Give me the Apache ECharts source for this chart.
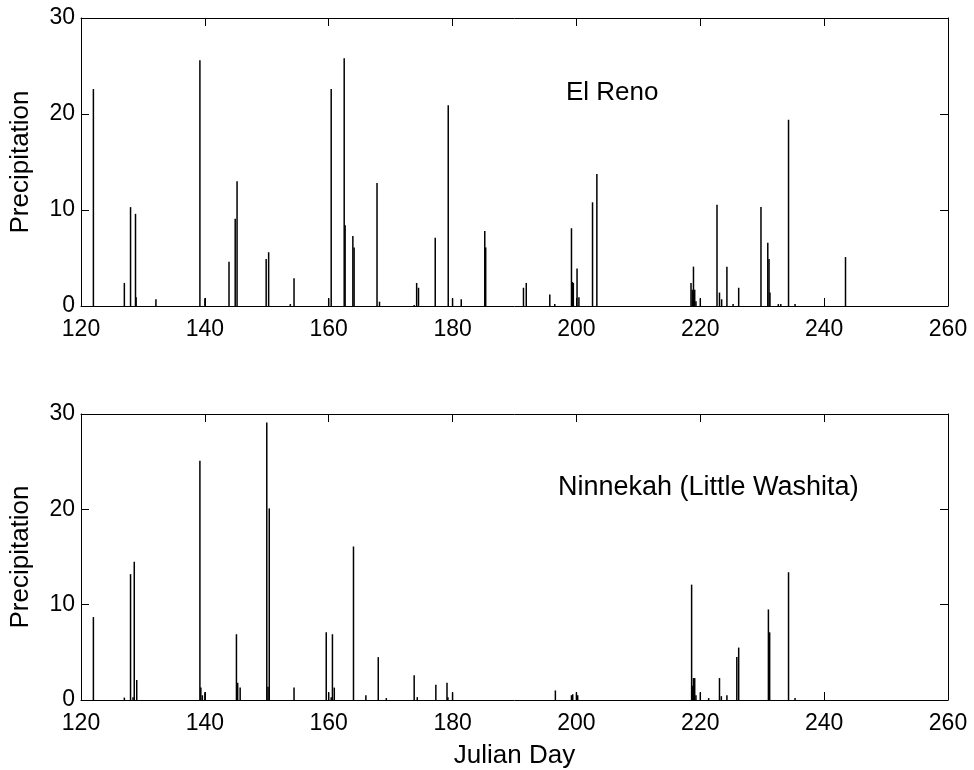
<!DOCTYPE html>
<html>
<head>
<meta charset="utf-8">
<script src="https://cdn.jsdelivr.net/npm/echarts@6/dist/echarts.min.js"></script>
<style>
html,body{margin:0;padding:0;background:#fff;}
#chart{width:974px;height:770px;}
</style>
</head>
<body>
<div id="chart"></div>
<script>
// ---- data ----
var xTicks = [120, 140, 160, 180, 200, 220, 240, 260];
var yTicks = [0, 10, 20, 30];
var elRenoDays = [122.0, 127.0, 128.0, 128.8, 128.9, 132.1, 139.2, 140.0, 143.9, 144.9, 145.2, 149.9, 150.3, 153.8, 154.4, 160.0, 160.4, 162.5, 162.65, 163.9, 164.1, 167.8, 168.2, 173.8, 174.2, 174.5, 177.2, 179.3, 180.0, 181.4, 185.2, 185.35, 191.45, 191.9, 195.7, 196.5, 199.2, 199.35, 199.5, 200.1, 200.4, 202.6, 203.3, 218.5, 218.7, 218.9, 219.1, 219.3, 220.0, 222.7, 223.1, 223.45, 224.3, 225.3, 226.2, 229.8, 230.9, 231.1, 231.25, 232.6, 233.0, 234.25, 235.3, 243.45];
var elRenoPrecip = [22.6, 2.4, 10.3, 9.6, 0.9, 0.7, 25.6, 0.8, 4.6, 9.1, 13.0, 4.9, 5.6, 0.2, 2.9, 0.8, 22.6, 25.8, 8.4, 7.3, 6.1, 12.8, 0.45, 0.1, 2.4, 1.9, 7.1, 20.9, 0.8, 0.7, 7.8, 6.1, 1.9, 2.4, 1.2, 0.2, 8.1, 2.5, 2.4, 3.9, 0.9, 10.8, 13.75, 2.4, 1.7, 4.1, 1.7, 0.5, 0.8, 10.55, 1.4, 0.7, 4.1, 0.2, 1.9, 10.3, 6.6, 4.9, 1.4, 0.2, 0.2, 19.4, 0.2, 5.1];
var ninnekahDays = [122.0, 127.0, 128.0, 128.4, 128.6, 129.0, 139.2, 139.35, 139.6, 140.0, 145.1, 145.3, 145.7, 150.0, 150.2, 150.4, 154.4, 159.6, 160.0, 160.4, 160.6, 160.9, 164.0, 166.0, 168.0, 169.3, 173.8, 174.3, 177.3, 179.1, 179.25, 180.0, 196.6, 199.2, 199.4, 200.0, 200.2, 218.6, 218.7, 218.9, 219.1, 219.3, 220.0, 221.35, 223.1, 223.4, 224.3, 225.9, 226.2, 231.0, 231.2, 234.25, 235.3];
var ninnekahPrecip = [8.7, 0.25, 13.2, 0.3, 14.5, 2.1, 25.1, 1.3, 0.5, 0.8, 6.9, 1.8, 1.3, 29.1, 1.4, 20.1, 1.3, 7.1, 0.8, 0.3, 6.9, 1.3, 16.1, 0.5, 4.5, 0.2, 2.6, 0.3, 1.6, 1.8, 0.3, 0.8, 1.0, 0.5, 0.6, 0.8, 0.5, 12.1, 1.5, 2.3, 2.3, 0.5, 0.8, 0.2, 2.3, 0.4, 0.5, 4.5, 5.5, 9.5, 7.1, 13.4, 0.2];
var panelTitles = ['El Reno', 'Ninnekah (Little Washita)'];
var yName = 'Precipitation';
var xName = 'Julian Day';

function pairs(xs, ys) { return xs.map(function (x, i) { return [x, ys[i]]; }); }

var FONT = 'Liberation Sans, Arial, Helvetica, sans-serif';
var xMin = xTicks[0], xMax = xTicks[xTicks.length - 1], xInt = xTicks[1] - xTicks[0];
var yMin = yTicks[0], yMax = yTicks[yTicks.length - 1], yInt = yTicks[1] - yTicks[0];

var line = { show: true, onZero: false, lineStyle: { color: '#000', width: 1 } };
var tickIn = { show: true, inside: true, length: 8, lineStyle: { color: '#000', width: 1 } };

function xAxisDef(gi, pos, labels, name) {
  return {
    type: 'value', gridIndex: gi, position: pos, min: xMin, max: xMax, interval: xInt,
    axisLine: line, axisTick: tickIn, splitLine: { show: false },
    axisLabel: { show: labels, color: '#000', fontSize: 23, fontFamily: FONT, margin: 12 },
    name: name || '', nameLocation: 'middle', nameGap: 43,
    nameTextStyle: { color: '#000', fontSize: 26, fontFamily: FONT }
  };
}
function yAxisDef(gi, pos, labels) {
  return {
    type: 'value', gridIndex: gi, position: pos, min: yMin, max: yMax, interval: yInt,
    axisLine: line, axisTick: tickIn, splitLine: { show: false },
    axisLabel: { show: labels, color: '#000', fontSize: 23, fontFamily: FONT, margin: 6 },
    name: labels ? yName : '', nameLocation: 'middle', nameGap: 47,
    nameTextStyle: { color: '#000', fontSize: 26, fontFamily: FONT }
  };
}

var grids = [
  { left: 80, right: 26, top: 18, height: 288 },
  { left: 80, right: 26, top: 414, height: 288 }
];

var option = {
  backgroundColor: '#fff',
  animation: false,
  grid: grids,
  xAxis: [
    xAxisDef(0, 'bottom', true), xAxisDef(0, 'top', false),
    xAxisDef(1, 'bottom', true, xName), xAxisDef(1, 'top', false)
  ],
  yAxis: [
    yAxisDef(0, 'left', true), yAxisDef(0, 'right', false),
    yAxisDef(1, 'left', true), yAxisDef(1, 'right', false)
  ],
  title: [
    { text: panelTitles[0], left: 561, top: 75, textStyle: { color: '#000', fontSize: 26, fontWeight: 'normal', fontFamily: FONT } },
    { text: panelTitles[1], left: 553, top: 469, textStyle: { color: '#000', fontSize: 27, fontWeight: 'normal', fontFamily: FONT } }
  ],
  series: [
    { type: 'bar', xAxisIndex: 0, yAxisIndex: 0, barWidth: 1.5, itemStyle: { color: '#000' }, data: pairs(elRenoDays, elRenoPrecip) },
    { type: 'bar', xAxisIndex: 2, yAxisIndex: 2, barWidth: 1.5, itemStyle: { color: '#000' }, data: pairs(ninnekahDays, ninnekahPrecip) }
  ]
};

var chart = echarts.init(document.getElementById('chart'), null, { renderer: 'canvas' });
chart.setOption(option);
</script>
</body>
</html>
